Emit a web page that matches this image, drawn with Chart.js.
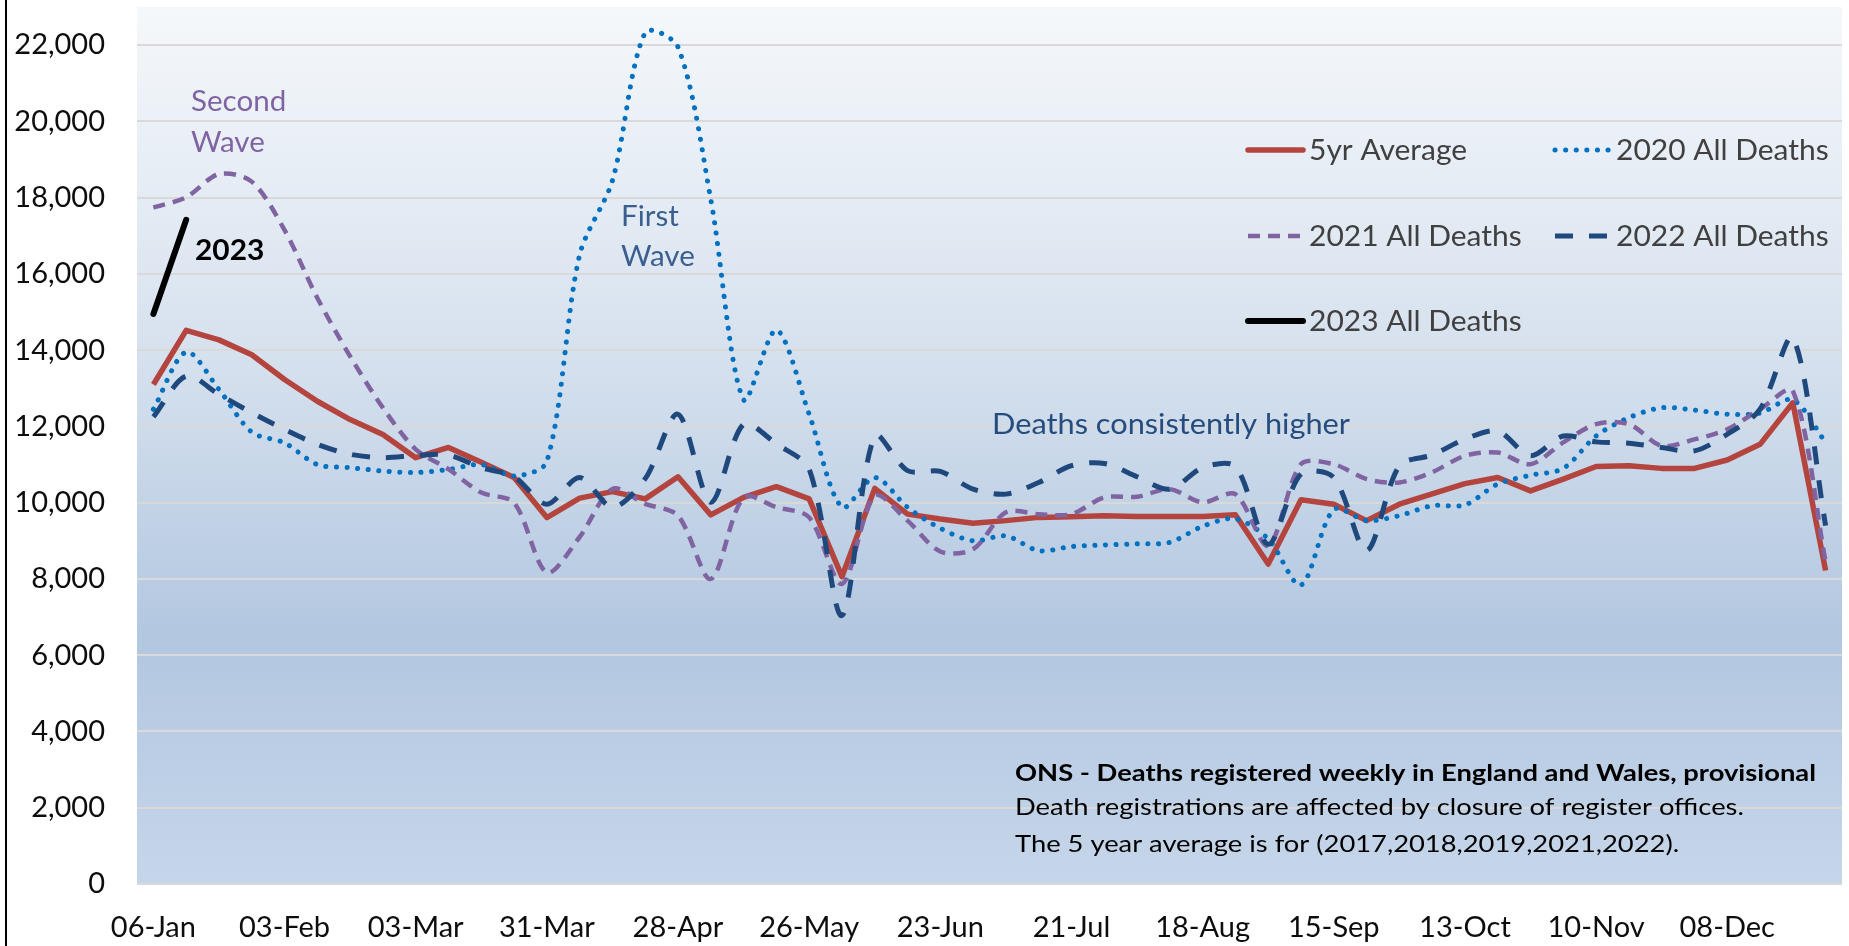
<!DOCTYPE html>
<html>
<head>
<meta charset="utf-8">
<script src="https://cdn.jsdelivr.net/npm/chart.js@4.4.0/dist/chart.umd.min.js"></script>
<style>
  html, body { margin: 0; padding: 0; background: #fff; }
  #wrap { position: relative; width: 1849px; height: 946px; }
  #edge { position: absolute; left: 5px; top: 0; width: 2px; height: 946px; background: #000; }
</style>
</head>
<body>
<div id="wrap">
  <canvas id="chart" width="1849" height="946"></canvas>
  <div id="edge"></div>
</div>
<script>
// week ending dates
const weekLabels = [
  '06-Jan', '13-Jan', '20-Jan', '27-Jan', '03-Feb', '10-Feb', '17-Feb', '24-Feb',
  '03-Mar', '10-Mar', '17-Mar', '24-Mar', '31-Mar', '07-Apr', '14-Apr', '21-Apr',
  '28-Apr', '05-May', '12-May', '19-May', '26-May', '02-Jun', '09-Jun', '16-Jun',
  '23-Jun', '30-Jun', '07-Jul', '14-Jul', '21-Jul', '28-Jul', '04-Aug', '11-Aug',
  '18-Aug', '25-Aug', '01-Sep', '08-Sep', '15-Sep', '22-Sep', '29-Sep', '06-Oct',
  '13-Oct', '20-Oct', '27-Oct', '03-Nov', '10-Nov', '17-Nov', '24-Nov', '01-Dec',
  '08-Dec', '15-Dec', '22-Dec', '29-Dec'
];

const avg5yr = [
  13100, 14520, 14270, 13880, 13230, 12660, 12180, 11790, 11180, 11450, 11060, 10660,
  9610, 10120, 10290, 10100, 10680, 9680, 10140, 10420, 10100, 8060, 10375, 9700,
  9570, 9460, 9530, 9615, 9630, 9660, 9640, 9640, 9640, 9685, 8390, 10075,
  9960, 9530, 9960, 10230, 10500, 10660, 10310, 10620, 10950, 10970, 10900, 10900,
  11120, 11530, 12620, 8220
];

const deaths2020 = [
  12450, 13950, 12970, 11850, 11570, 11000, 10920, 10830, 10790, 10870, 11000, 10700,
  11080, 16500, 18450, 22330, 21950, 17950, 12700, 14530, 12320, 9880, 10660, 9880,
  9330, 9000, 9130, 8740, 8850, 8890, 8920, 8960, 9380, 9580, 9050, 7840,
  9820, 9530, 9660, 9920, 9940, 10490, 10720, 10900, 11750, 12230, 12490, 12430,
  12320, 12350, 12700, 11580
];

const deaths2021 = [
  17740, 18010, 18620, 18420, 17150, 15370, 13840, 12490, 11400, 10880, 10265, 10000,
  8170, 9100, 10360, 9970, 9660, 8000, 10140, 9880, 9615, 7870, 10180, 9530,
  8720, 8780, 9750, 9700, 9700, 10140, 10155, 10355, 10010, 10225, 8870, 11010,
  11010, 10620, 10530, 10800, 11230, 11315, 11010, 11580, 12060, 12060, 11490, 11660,
  11925, 12450, 12930, 8450
];

const deaths2022 = [
  12250, 13320, 12840, 12360, 11920, 11530, 11270, 11180, 11240, 11250, 10920, 10680,
  9960, 10660, 9880, 10630, 12320, 10010, 12060, 11540, 10880, 7040, 11755, 10840,
  10820, 10355, 10225, 10530, 10970, 11030, 10680, 10355, 10920, 10950, 8910, 10750,
  10660, 8740, 10970, 11250, 11665, 11880, 11230, 11750, 11595, 11560, 11445, 11360,
  11795, 12450, 14325, 9400
];

const deaths2023 = [14950, 17420];

const yTickValues = [0, 2000, 4000, 6000, 8000, 10000, 12000, 14000, 16000, 18000, 20000, 22000];
const yMax = 23000;

const FONT = 'Lato';

// gradient fill behind the plot area
const plotBackground = {
  id: 'plotBackground',
  beforeDraw(chart) {
    const { ctx, chartArea: a } = chart;
    const g = ctx.createLinearGradient(0, a.top, 0, a.bottom);
    g.addColorStop(0, '#F5F8FB');
    g.addColorStop(0.4, '#D6E1EE');
    g.addColorStop(0.72, '#B2C7E0');
    g.addColorStop(1, '#C6D6EA');
    ctx.save();
    ctx.fillStyle = g;
    ctx.fillRect(a.left, a.top, a.right - a.left, a.bottom - a.top);
    ctx.restore();
  }
};

// text with a little horizontal stretch, like the original export
const text = (ctx, str, x, y, font, color, sx = 1) => {
  ctx.save();
  ctx.font = font;
  ctx.fillStyle = color;
  ctx.textAlign = 'left';
  ctx.textBaseline = 'alphabetic';
  ctx.translate(x, y);
  ctx.scale(sx, 1);
  ctx.fillText(str, 0, 0);
  ctx.restore();
};

// legend in two columns, labels and notes
const notes = {
  id: 'notes',
  afterDatasetsDraw(chart) {
    const ctx = chart.ctx;
    ctx.save();

    const colX = [1248, 1555];
    const rowY = [150, 236, 321];
    chart.data.datasets.forEach((ds, k) => {
      const x = colX[k % 2];
      const y = rowY[Math.floor(k / 2)];
      ctx.beginPath();
      ctx.setLineDash(ds.borderDash || []);
      ctx.lineWidth = ds.borderWidth;
      ctx.strokeStyle = ds.borderColor;
      ctx.lineCap = ds.borderDash ? (ds.borderCapStyle || 'butt') : 'round';
      ctx.moveTo(x, y);
      ctx.lineTo(x + 55, y);
      ctx.stroke();
      ctx.setLineDash([]);
      text(ctx, ds.label, x + 61, y + 10, `28px ${FONT}`, '#404040', 1.07);
    });

    text(ctx, 'Second', 191, 111, `29px ${FONT}`, '#8064A2', 1.02);
    text(ctx, 'Wave', 191, 152, `29px ${FONT}`, '#8064A2', 1.02);
    text(ctx, '2023', 195, 260, `bold 29px ${FONT}`, '#000', 1.03);
    text(ctx, 'First', 621, 226, `29px ${FONT}`, '#3A5F8F', 1.02);
    text(ctx, 'Wave', 621, 266, `29px ${FONT}`, '#3A5F8F', 1.02);
    text(ctx, 'Deaths consistently higher', 992, 434, `29px ${FONT}`, '#244C7E', 1.06);

    const lines = [
      'ONS - Deaths registered weekly in England and Wales, provisional',
      'Death registrations are affected by closure of register offices.',
      'The 5 year average is for (2017,2018,2019,2021,2022).'
    ];
    ctx.font = `bold 23px ${FONT}`;
    const sx = 801 / ctx.measureText(lines[0]).width;
    text(ctx, lines[0], 1015, 781, `bold 23px ${FONT}`, '#000', sx);
    text(ctx, lines[1], 1015, 815, `23px ${FONT}`, '#000', sx);
    text(ctx, lines[2], 1015, 852, `23px ${FONT}`, '#000', sx);

    ctx.restore();
  }
};

const build = () => {
  Chart.defaults.font.family = FONT;

  new Chart(document.getElementById('chart'), {
    type: 'line',
    data: {
      labels: weekLabels,
      datasets: [
        { label: '5yr Average', data: avg5yr, borderColor: '#B4443E', borderWidth: 5.5,
          tension: 0, borderJoinStyle: 'round', order: 5 },
        { label: '2020 All Deaths', data: deaths2020, borderColor: '#0070C0', borderWidth: 5,
          borderDash: [0.1, 10.5], borderCapStyle: 'round', tension: 0.3, order: 4 },
        { label: '2021 All Deaths', data: deaths2021, borderColor: '#8064A2', borderWidth: 4.5,
          borderDash: [12, 8], tension: 0.3, order: 3 },
        { label: '2022 All Deaths', data: deaths2022, borderColor: '#1F497D', borderWidth: 5,
          borderDash: [18, 16], tension: 0.3, order: 2 },
        { label: '2023 All Deaths', data: deaths2023, borderColor: '#000000', borderWidth: 6,
          borderCapStyle: 'round', tension: 0, order: 1 }
      ]
    },
    options: {
      responsive: false,
      animation: false,
      events: [],
      elements: { point: { radius: 0 } },
      layout: { padding: { top: 7, right: 7, left: 0, bottom: 0 } },
      plugins: {
        legend: { display: false },
        tooltip: { enabled: false }
      },
      scales: {
        x: {
          type: 'category',
          offset: true,
          grid: { display: false },
          border: { display: false },
          ticks: {
            autoSkip: false,
            maxRotation: 0,
            minRotation: 0,
            padding: 18,
            color: '#0D0D0D',
            font: { size: 29, family: FONT },
            callback: (v, i) => (i % 4 === 0 ? weekLabels[i] : null)
          },
          afterFit: (s) => {
            s.height = 62;
            s.paddingLeft = 0;
            s.paddingRight = 0;
          }
        },
        y: {
          min: 0,
          max: yMax,
          grid: { color: '#D9D9D9', lineWidth: 2, drawTicks: false },
          border: { display: false },
          ticks: {
            padding: 32,
            color: '#0D0D0D',
            font: { size: 29, family: FONT },
            callback: (v) => v.toLocaleString('en-GB')
          },
          afterBuildTicks: (s) => { s.ticks = yTickValues.map((v) => ({ value: v })); },
          afterFit: (s) => {
            s.width = 137;
            s.paddingTop = 0;
            s.paddingBottom = 0;
          }
        }
      }
    },
    plugins: [plotBackground, notes]
  });
};

if (document.fonts && document.fonts.load) {
  document.fonts.load(`28px ${FONT}`).then(build, build);
} else {
  build();
}
</script>
</body>
</html>
